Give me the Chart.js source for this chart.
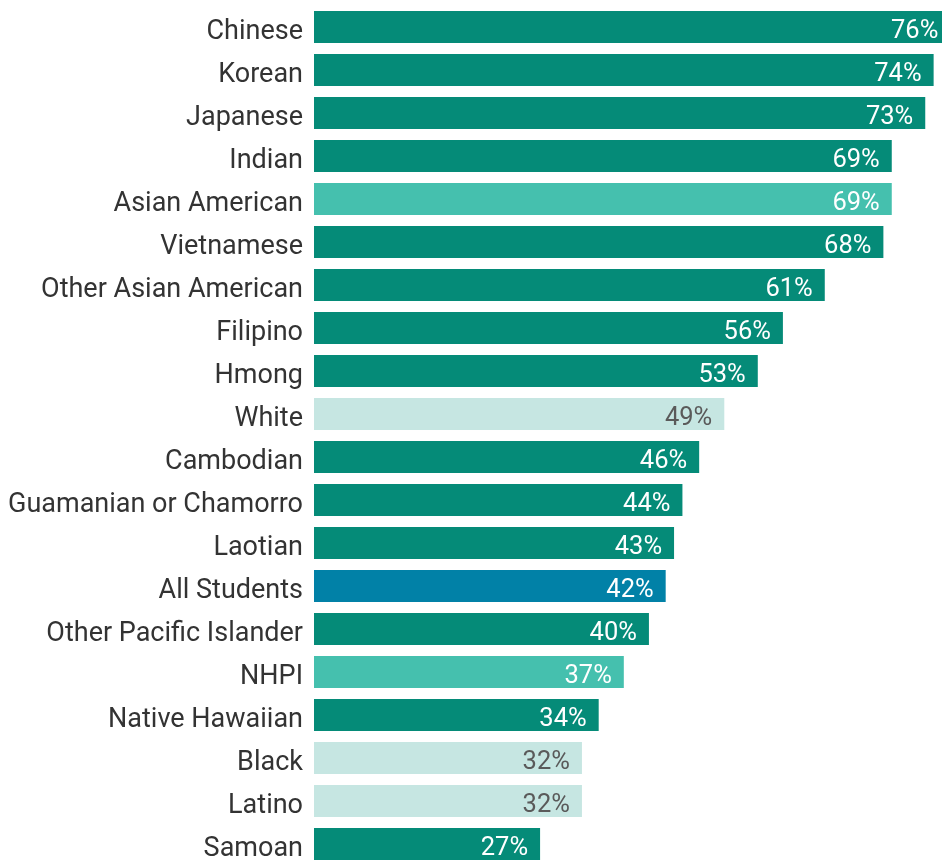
<!DOCTYPE html>
<html>
<head>
<meta charset="utf-8">
<script src="https://cdn.jsdelivr.net/npm/chart.js@4/dist/chart.umd.min.js"></script>
<style>
  html, body { margin: 0; padding: 0; background: #fff; overflow: hidden; }
  #wrap { position: relative; width: 942px; height: 866px; }
</style>
</head>
<body>
<div id="wrap"><canvas id="chart"></canvas></div>
<script>
// ===== DATA =====
const groups = [
  'Chinese', 'Korean', 'Japanese', 'Indian', 'Asian American', 'Vietnamese',
  'Other Asian American', 'Filipino', 'Hmong', 'White', 'Cambodian',
  'Guamanian or Chamorro', 'Laotian', 'All Students', 'Other Pacific Islander',
  'NHPI', 'Native Hawaiian', 'Black', 'Latino', 'Samoan'
];
const percents = [76, 74, 73, 69, 69, 68, 61, 56, 53, 49, 46, 44, 43, 42, 40, 37, 34, 32, 32, 27];
// kind of bar: 'sub' = subgroup, 'agg' = aggregate, 'cmp' = comparison, 'all' = all students
const kinds = [
  'sub', 'sub', 'sub', 'sub', 'agg', 'sub', 'sub', 'sub', 'sub', 'cmp', 'sub',
  'sub', 'sub', 'all', 'sub', 'agg', 'sub', 'cmp', 'cmp', 'sub'
];

// ===== COLOURS =====
const barColors = { sub: '#058b78', agg: '#45c0ae', cmp: '#c6e6e2', all: '#0181a7' };
const textColors = { sub: '#ffffff', agg: '#ffffff', cmp: '#5a5a5a', all: '#ffffff' };

// ===== VALUE LABELS (inside the bar end) =====
const valueLabels = {
  id: 'valueLabels',
  afterDatasetsDraw(chart) {
    const ctx = chart.ctx;
    const meta = chart.getDatasetMeta(0);
    ctx.save();
    ctx.font = '25.5px Roboto';
    ctx.textAlign = 'right';
    ctx.textBaseline = 'alphabetic';
    meta.data.forEach((bar, i) => {
      ctx.fillStyle = textColors[kinds[i]];
      ctx.fillText(percents[i] + '%', bar.x - 12, bar.y + 10.5);
    });
    ctx.restore();
  }
};

new Chart(document.getElementById('chart'), {
  type: 'bar',
  data: {
    labels: groups,
    datasets: [{
      data: percents,
      backgroundColor: kinds.map(k => barColors[k]),
      borderWidth: 0,
      barPercentage: 32 / 43,
      categoryPercentage: 1,
    }],
  },
  options: {
    indexAxis: 'y',
    responsive: true,
    maintainAspectRatio: false,
    animation: false,
    layout: { padding: { top: 5.5, bottom: 0.5, left: 0, right: 0 } },
    plugins: {
      legend: { display: false },
      tooltip: { enabled: false },
    },
    scales: {
      x: {
        display: false,
        min: 0,
        max: 75,
      },
      y: {
        grid: { display: false, drawTicks: false },
        border: { display: false },
        ticks: {
          padding: 11,
          labelOffset: 5,
          color: '#333333',
          font: { family: 'Roboto', size: 27 },
        },
        afterFit(scale) {
          scale.width = 314;
          // labels sit inside their bands, no extra room needed
          scale.paddingTop = 0;
          scale.paddingBottom = 0;
        },
      },
    },
  },
  plugins: [valueLabels],
});
</script>
</body>
</html>
